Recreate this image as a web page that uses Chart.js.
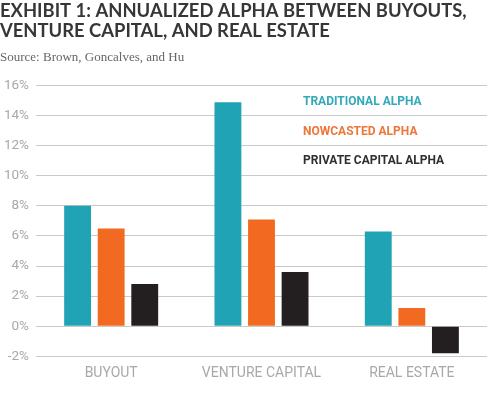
<!DOCTYPE html>
<html>
<head>
<meta charset="utf-8">
<script src="https://cdn.jsdelivr.net/npm/chart.js@4/dist/chart.umd.min.js"></script>
<style>
html,body{margin:0;padding:0;background:#fff;}
#wrap{width:500px;height:400px;position:relative;}
</style>
</head>
<body>
<div id="wrap"><canvas id="c" width="500" height="400"></canvas></div>
<script>
const categories = ["BUYOUT", "VENTURE CAPITAL", "REAL ESTATE"];
const seriesNames = ["TRADITIONAL ALPHA", "NOWCASTED ALPHA", "PRIVATE CAPITAL ALPHA"];
const traditionalAlpha = [8.0, 14.9, 6.3];
const nowcastedAlpha = [6.5, 7.1, 1.2];
const privateCapitalAlpha = [2.8, 3.6, -1.8];
const yTicks = [-2, 0, 2, 4, 6, 8, 10, 12, 14, 16];
const titleLines = ["EXHIBIT 1: ANNUALIZED ALPHA BETWEEN BUYOUTS,", "VENTURE CAPITAL, AND REAL ESTATE"];
const subtitleText = "Source: Brown, Goncalves, and Hu";

const barColors = ["#1fa3b5", "#f26a22", "#231f20"];
const legendColors = ["#33a9b9", "#ee7638", "#2f2f2f"];

const legendPlugin = {
  id: 'textLegend',
  afterDatasetsDraw(chart) {
    const ctx = chart.ctx;
    const a = chart.chartArea;
    ctx.save();
    ctx.font = "bold 12px Roboto";
    ctx.textBaseline = "middle";
    ctx.textAlign = "left";
    chart.data.datasets.forEach((ds, i) => {
      ctx.fillStyle = legendColors[i];
      ctx.fillText(ds.label, a.left + 267, a.top + 16.5 + i * 29.5);
    });
    ctx.restore();
  }
};

new Chart(document.getElementById('c'), {
  type: 'bar',
  data: {
    labels: categories,
    datasets: [
      { label: seriesNames[0], data: traditionalAlpha, backgroundColor: barColors[0] },
      { label: seriesNames[1], data: nowcastedAlpha, backgroundColor: barColors[1] },
      { label: seriesNames[2], data: privateCapitalAlpha, backgroundColor: barColors[2] }
    ]
  },
  options: {
    responsive: false,
    animation: false,
    devicePixelRatio: 1,
    categoryPercentage: 0.67,
    barPercentage: 0.8,
    layout: { padding: { left: 0, right: 13, top: 0, bottom: 9 } },
    plugins: {
      legend: { display: false },
      tooltip: { enabled: false },
      title: {
        display: true,
        text: titleLines,
        align: 'start',
        color: '#363636',
        font: { family: 'Lato', size: 18.4, weight: 'bold', lineHeight: 1.087 },
        padding: { top: 1, bottom: 2 }
      },
      subtitle: {
        display: true,
        text: subtitleText,
        align: 'start',
        color: '#666666',
        font: { family: 'Liberation Serif', size: 13 },
        padding: { top: 7, bottom: 20 }
      }
    },
    scales: {
      x: {
        grid: { display: false, drawTicks: false },
        border: { display: false },
        ticks: { color: '#a8a8a8', font: { family: 'Roboto', size: 14 }, padding: 9 }
      },
      y: {
        min: -2,
        max: 16,
        afterFit(scale) { scale.width = 36; },
        afterBuildTicks(scale) { scale.ticks = yTicks.map(v => ({ value: v })); },
        grid: { color: '#c9c9c9', lineWidth: 1, drawTicks: false },
        border: { display: false },
        ticks: {
          color: '#a8a8a8',
          font: { family: 'Roboto', size: 13.5 },
          padding: 7,
          callback: v => v + '%'
        }
      }
    }
  },
  plugins: [legendPlugin]
});
</script>
</body>
</html>
